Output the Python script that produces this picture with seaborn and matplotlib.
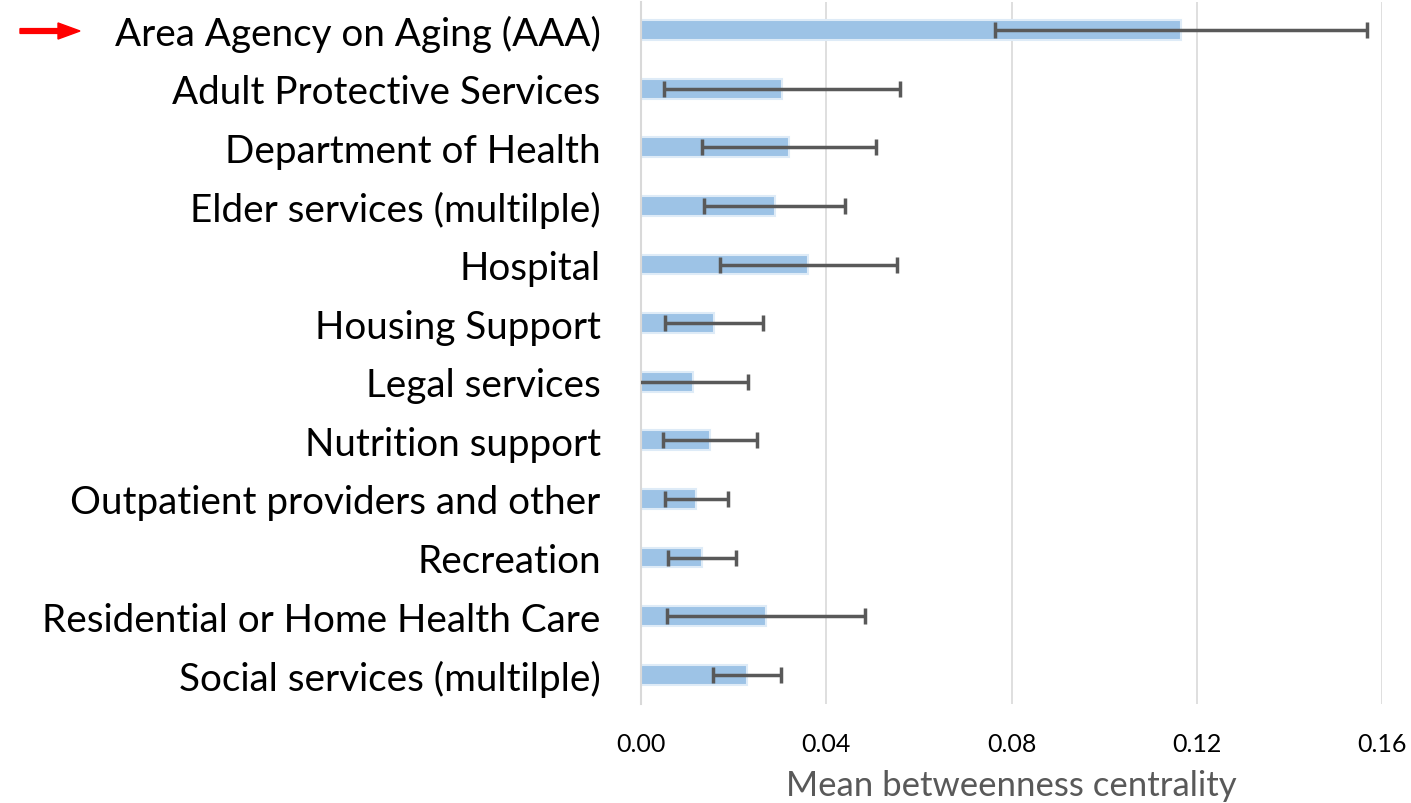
import numpy as np
import pandas as pd
import matplotlib
matplotlib.use("Agg")
import matplotlib.pyplot as plt
import seaborn as sns

categories = [
    "Area Agency on Aging (AAA)",
    "Adult Protective Services",
    "Department of Health",
    "Elder services (multilple)",
    "Hospital",
    "Housing Support",
    "Legal services",
    "Nutrition support",
    "Outpatient providers and other",
    "Recreation",
    "Residential or Home Health Care",
    "Social services (multilple)",
]
mean_bc = [0.1166, 0.0304, 0.0320, 0.0289, 0.0361, 0.0158,
           0.0112, 0.0149, 0.0119, 0.0132, 0.0270, 0.0229]
err_bc = [0.0401, 0.0255, 0.0188, 0.0152, 0.0191, 0.0106,
          0.0119, 0.0101, 0.0068, 0.0073, 0.0214, 0.0073]
x_ticks = [0.00, 0.04, 0.08, 0.12, 0.16]

df = pd.DataFrame({"category": categories, "mean": mean_bc, "err": err_bc})

sns.set_style("white")
plt.rcParams["font.family"] = ["Lato", "DejaVu Sans"]

fig = plt.figure(figsize=(14.11, 8.04), dpi=100)
ax = fig.add_axes([0.4543, 0.1231, 0.5252, 0.8732])

sns.barplot(data=df, x="mean", y="category", orient="h", color="#9dc3e6",
            width=0.34, edgecolor="#deebf7", linewidth=1.5, errorbar=None,
            saturation=1, ax=ax)
ax.errorbar(df["mean"], np.arange(len(df)), xerr=df["err"], fmt="none",
            ecolor="#595959", elinewidth=2.5, capsize=6, capthick=2.5, zorder=5)

ax.set_xlim(0, 0.16)
ax.set_ylim(11.5, -0.48)
ax.set_xticks(x_ticks)
ax.set_xticklabels([f"{t:.2f}" for t in x_ticks], fontsize=18, color="black")
ax.xaxis.grid(True, color="#d9d9d9", linewidth=1.2)
ax.set_axisbelow(True)
for s in ["top", "right", "bottom"]:
    ax.spines[s].set_visible(False)
ax.spines["left"].set_color("#d9d9d9")
ax.spines["left"].set_linewidth(1.5)
ax.tick_params(axis="both", length=0)
ax.tick_params(axis="x", pad=20)
ax.tick_params(axis="y", pad=29)
ax.set_yticklabels(categories, fontsize=27.8, color="black")
ax.set_ylabel("")
ax.set_xlabel("Mean betweenness centrality", fontsize=25, color="#595959", labelpad=10)

# red arrow pointing to the AAA label
fig.patches.append(matplotlib.patches.FancyArrow(
    20 / 1411, 1 - 32 / 804, 60 / 1411, 0, width=0.006, head_width=0.02,
    head_length=22 / 1411, length_includes_head=True, color="red",
    transform=fig.transFigure, figure=fig))

fig.savefig("out.png", dpi=100)
